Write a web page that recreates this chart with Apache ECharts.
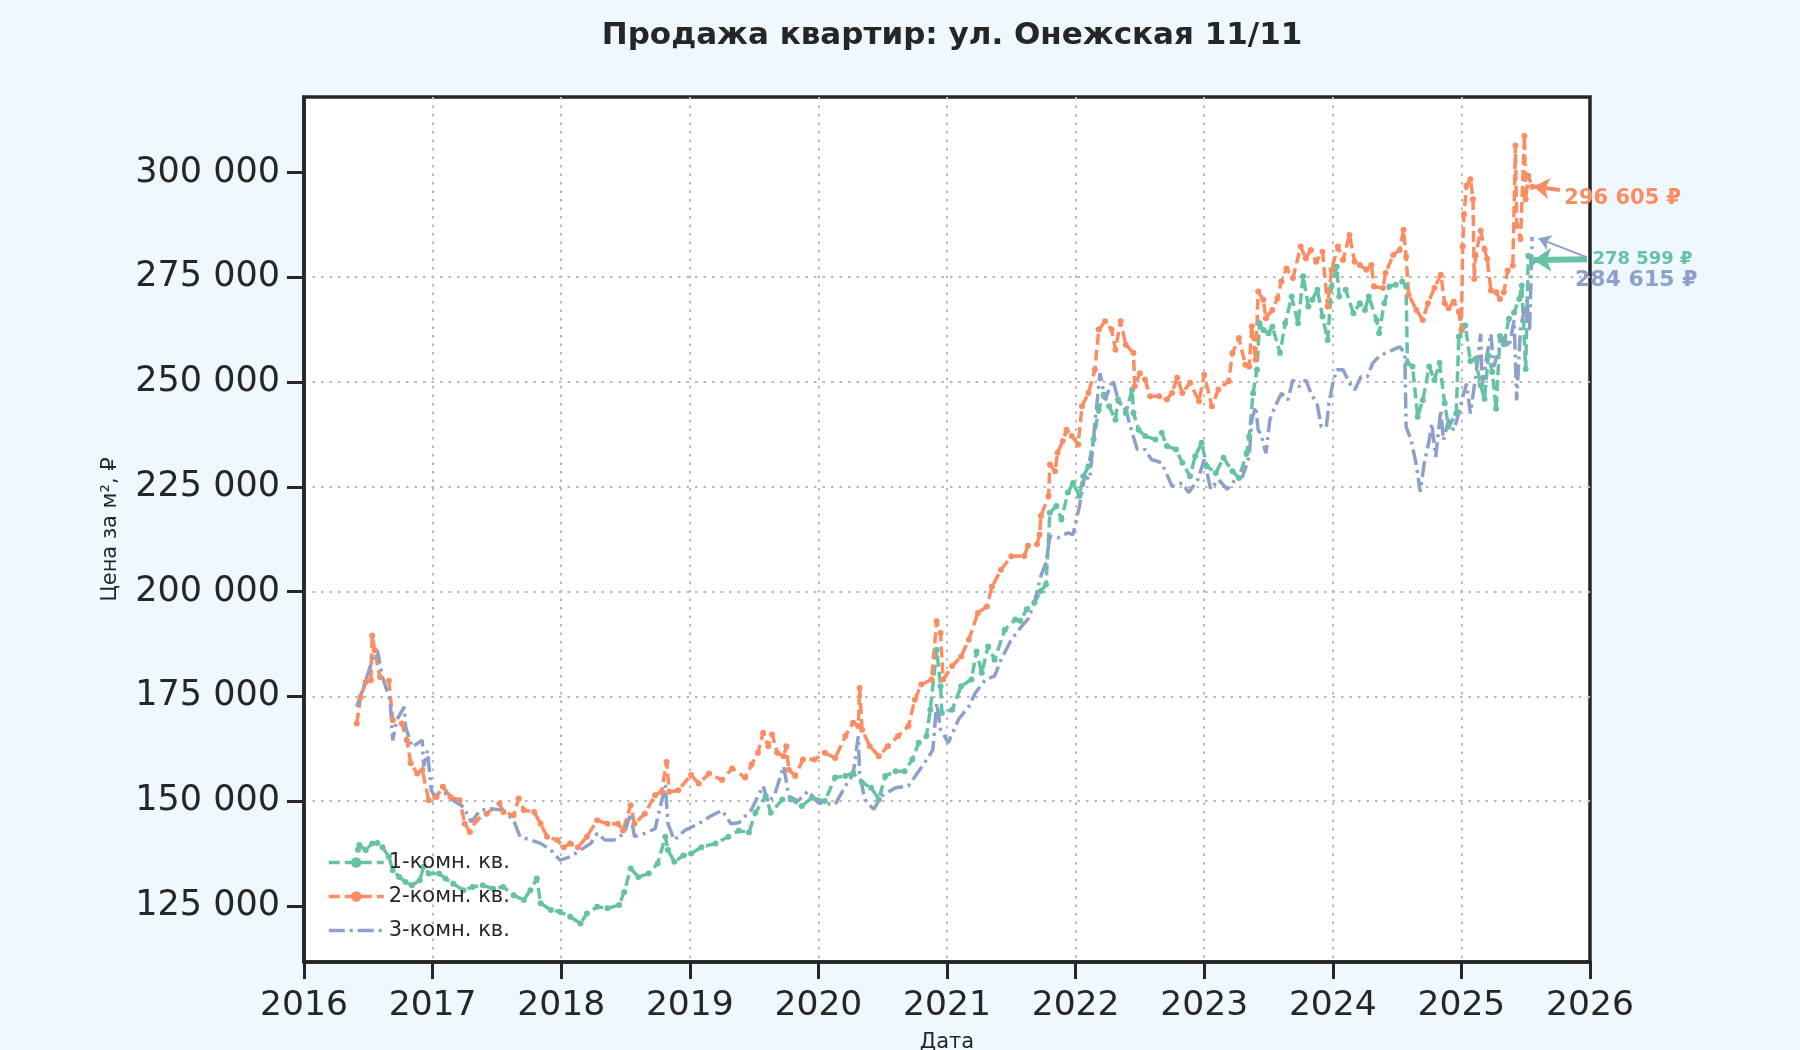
<!DOCTYPE html>
<html>
<head>
<meta charset="utf-8">
<script src="https://cdn.jsdelivr.net/npm/echarts@6/dist/echarts.min.js"></script>
<style>
html,body{margin:0;padding:0;background:#f0f8ff;}
#chart{width:1800px;height:1050px;}
</style>
</head>
<body>
<div id="chart"></div>
<script>
// ---- data: [decimal year, price per m²] ----
const oneRoom = [
[2016.42,138400],[2016.43,139500],[2016.48,138300],[2016.53,139900],[2016.57,140000],[2016.61,139000],[2016.66,136700],[2016.69,133500],[2016.74,131900],[2016.79,130700],[2016.84,129900],[2016.90,131100],[2016.93,134300],[2016.97,132700],
[2017.05,132700],[2017.10,131500],[2017.16,130300],[2017.24,128700],[2017.31,129500],[2017.39,129900],[2017.47,129100],[2017.55,129500],[2017.63,127500],[2017.71,126400],[2017.76,128700],[2017.81,131500],[2017.84,125600],[2017.92,124000],[2017.99,123600],
[2018.07,122400],[2018.15,120800],[2018.20,123200],[2018.28,124800],[2018.36,124400],[2018.45,125200],[2018.49,128300],[2018.54,133900],[2018.60,131900],[2018.68,132700],[2018.75,135100],[2018.81,141500],[2018.83,138300],[2018.88,135500],[2018.95,137000],
[2019.01,137500],[2019.09,139000],[2019.20,139900],[2019.30,141500],[2019.38,142900],[2019.46,142500],[2019.51,147200],[2019.59,151200],[2019.63,147200],[2019.72,150400],[2019.79,150400],[2019.87,148800],[2019.95,150800],
[2020.05,150000],[2020.13,155600],[2020.21,156000],[2020.27,156700],[2020.34,154400],[2020.41,153200],[2020.47,150400],[2020.52,156000],[2020.60,157100],[2020.67,157100],[2020.73,159900],[2020.78,163900],[2020.84,165500],[2020.87,171800],[2020.92,186100],[2020.95,177400],[2020.96,171000],
[2021.04,171800],[2021.11,177400],[2021.19,179000],[2021.23,185700],[2021.27,180600],[2021.32,186900],[2021.37,183700],[2021.45,190900],[2021.53,193300],[2021.57,193000],[2021.62,195800],[2021.68,197400],[2021.73,200100],[2021.77,201700],[2021.80,218800],[2021.85,220400],[2021.89,217200],[2021.94,223600],[2021.98,225900],
[2022.03,222800],[2022.06,227500],[2022.10,229900],[2022.14,236300],[2022.18,243400],[2022.22,247000],[2022.26,244200],[2022.31,241000],[2022.33,245800],[2022.39,242600],[2022.44,248200],[2022.45,242600],[2022.49,238600],[2022.54,237100],[2022.62,236300],[2022.67,237900],[2022.71,234700],[2022.78,233900],[2022.83,230700],[2022.89,227500],[2022.93,232300],[2022.98,235500],
[2023.02,229900],[2023.09,228300],[2023.15,231900],[2023.22,228700],[2023.27,227100],[2023.33,233000],[2023.35,237000],[2023.38,247300],[2023.41,252900],[2023.43,264000],[2023.46,262400],[2023.50,261600],[2023.53,263200],[2023.59,256900],[2023.63,264000],[2023.68,270400],[2023.73,264000],[2023.77,275200],[2023.81,268000],[2023.84,269600],[2023.88,272000],[2023.92,265600],[2023.96,260000],[2023.99,272800],
[2024.03,277500],[2024.05,270400],[2024.10,272000],[2024.16,266400],[2024.21,268800],[2024.25,267200],[2024.28,270400],[2024.34,264800],[2024.36,261600],[2024.40,268800],[2024.44,272800],[2024.49,273200],[2024.54,274000],[2024.57,272800],[2024.58,254500],[2024.62,253700],[2024.66,241700],[2024.70,245700],[2024.75,253700],[2024.79,250500],[2024.83,254500],[2024.87,244900],[2024.90,239300],[2024.96,242500],[2024.98,260800],
[2025.03,263500],[2025.07,255000],[2025.11,255500],[2025.15,249200],[2025.18,246000],[2025.21,256300],[2025.24,252400],[2025.27,243600],[2025.30,261000],[2025.33,259000],[2025.37,265100],[2025.41,266600],[2025.45,269800],[2025.47,273000],[2025.50,253100],[2025.52,280100],[2025.55,278599]
];
const twoRoom = [
[2016.41,168500],[2016.44,174800],[2016.48,178400],[2016.52,178800],[2016.53,189500],[2016.55,186000],[2016.59,179600],[2016.66,178700],[2016.69,169300],[2016.76,168500],[2016.80,164500],[2016.83,159000],[2016.88,156600],[2016.92,157400],[2016.97,150200],
[2017.03,151000],[2017.08,153400],[2017.14,151000],[2017.21,150200],[2017.25,144600],[2017.29,142600],[2017.34,145400],[2017.42,147000],[2017.52,149400],[2017.55,147400],[2017.63,146600],[2017.67,150600],[2017.71,147800],[2017.79,147400],[2017.84,144600],[2017.89,141500],[2017.97,140700],
[2018.02,139000],[2018.07,139900],[2018.13,139000],[2018.20,141500],[2018.28,145400],[2018.36,144600],[2018.44,144600],[2018.48,143000],[2018.54,149000],[2018.57,144600],[2018.65,147000],[2018.73,151400],[2018.78,152200],[2018.82,159300],[2018.84,152200],[2018.91,152600],
[2019.01,156200],[2019.07,154200],[2019.15,156600],[2019.25,155000],[2019.33,157800],[2019.43,155600],[2019.48,158700],[2019.53,161500],[2019.57,166300],[2019.61,163100],[2019.64,165900],[2019.68,161500],[2019.73,160700],[2019.75,163100],[2019.77,157500],[2019.82,156000],[2019.88,159900],[2019.97,159900],
[2020.05,161500],[2020.13,160300],[2020.21,165500],[2020.27,168700],[2020.31,167900],[2020.32,177000],[2020.34,167000],[2020.40,163100],[2020.47,160700],[2020.54,163100],[2020.62,165500],[2020.70,167900],[2020.75,174200],[2020.80,177800],[2020.88,179000],[2020.92,192900],[2020.95,190100],[2020.97,179000],
[2021.04,182200],[2021.11,184500],[2021.17,188500],[2021.24,194900],[2021.31,196400],[2021.35,201200],[2021.42,205200],[2021.50,208400],[2021.60,208500],[2021.63,210900],[2021.70,211300],[2021.72,213600],[2021.73,218000],[2021.79,222800],[2021.80,230300],[2021.84,228700],[2021.86,233100],[2021.90,235900],[2021.93,238600],[2021.97,237100],
[2022.02,235100],[2022.05,244200],[2022.10,247400],[2022.15,252900],[2022.18,262500],[2022.23,264500],[2022.28,262500],[2022.31,257700],[2022.35,264500],[2022.39,258900],[2022.45,256900],[2022.46,249000],[2022.50,252100],[2022.54,250600],[2022.58,246600],[2022.65,246600],[2022.71,245800],[2022.75,247400],[2022.79,251000],[2022.83,247400],[2022.89,249800],[2022.96,245400],
[2023.00,251700],[2023.06,244200],[2023.11,248200],[2023.19,250200],[2023.22,256900],[2023.27,260500],[2023.32,254100],[2023.35,253700],[2023.37,263300],[2023.40,255300],[2023.42,271600],[2023.46,269600],[2023.48,265200],[2023.53,267200],[2023.57,270000],[2023.60,274000],[2023.64,277100],[2023.69,274800],[2023.75,282300],[2023.79,279500],[2023.83,281500],[2023.87,278700],[2023.92,281100],[2023.96,268000],[2023.99,276800],
[2024.04,282300],[2024.08,279100],[2024.13,285100],[2024.17,278700],[2024.21,277900],[2024.26,276800],[2024.30,277900],[2024.32,272800],[2024.39,272400],[2024.41,276000],[2024.47,280300],[2024.52,281500],[2024.55,286300],[2024.57,279900],[2024.59,270800],[2024.65,267200],[2024.70,264800],[2024.74,268800],[2024.79,272400],[2024.84,275600],[2024.87,268800],[2024.90,267600],[2024.94,269200],[2024.98,266800],
[2025.00,262400],[2025.01,282300],[2025.02,290000],[2025.04,296800],[2025.07,298400],[2025.09,293600],[2025.10,274600],[2025.11,280100],[2025.15,286100],[2025.18,281700],[2025.20,279400],[2025.23,271800],[2025.27,271400],[2025.30,269800],[2025.33,271400],[2025.36,276600],[2025.40,277800],[2025.42,306400],[2025.43,287300],[2025.46,284100],[2025.49,308700],[2025.50,293600],[2025.52,299200],[2025.55,296605]
];
const threeRoom = [
[2016.41,172500],[2016.48,178800],[2016.54,184400],[2016.57,186000],[2016.61,179600],[2016.67,174000],[2016.69,164500],[2016.72,169300],[2016.78,172500],[2016.79,167700],[2016.84,162900],[2016.92,164500],[2016.93,158200],[2016.96,162000],[2016.99,152600],
[2017.01,151400],[2017.10,151800],[2017.16,150200],[2017.24,148600],[2017.30,145000],[2017.37,147800],[2017.45,148200],[2017.55,147800],[2017.63,145400],[2017.68,141500],[2017.76,140700],[2017.84,139900],[2017.92,138300],[2017.99,135900],
[2018.07,136700],[2018.15,138300],[2018.23,139900],[2018.28,142300],[2018.34,140700],[2018.41,140700],[2018.49,142300],[2018.54,147000],[2018.57,141500],[2018.65,142300],[2018.73,143400],[2018.81,153800],[2018.83,144600],[2018.88,140700],[2018.96,143000],
[2019.07,144600],[2019.15,146200],[2019.25,147800],[2019.32,144600],[2019.38,144800],[2019.48,148000],[2019.57,153600],[2019.61,149600],[2019.66,151600],[2019.73,158300],[2019.77,151200],[2019.84,150000],[2019.92,152400],
[2020.00,149600],[2020.13,149200],[2020.21,153600],[2020.27,156400],[2020.31,165500],[2020.32,156700],[2020.36,150400],[2020.43,148000],[2020.49,151200],[2020.60,153200],[2020.70,153600],[2020.78,157100],[2020.86,160700],[2020.89,162300],[2020.92,173400],[2020.95,167100],
[2021.01,163900],[2021.09,169500],[2021.17,172600],[2021.22,175800],[2021.30,179000],[2021.37,179800],[2021.42,183700],[2021.50,188500],[2021.58,191700],[2021.63,193400],[2021.68,197400],[2021.73,203700],[2021.77,206900],[2021.80,213200],[2021.86,212800],[2021.94,214000],[2021.98,213600],
[2022.03,220400],[2022.07,227500],[2022.11,226700],[2022.15,240200],[2022.19,252100],[2022.23,245800],[2022.27,249000],[2022.29,250600],[2022.33,245800],[2022.39,243400],[2022.44,237900],[2022.48,233900],[2022.54,233900],[2022.59,231500],[2022.67,230700],[2022.75,225100],[2022.83,225900],[2022.88,223600],[2022.95,226700],
[2023.00,231500],[2023.05,224400],[2023.11,226700],[2023.18,224400],[2023.24,226700],[2023.30,227500],[2023.35,232300],[2023.37,240900],[2023.40,244100],[2023.42,238500],[2023.44,237700],[2023.48,233000],[2023.51,240900],[2023.55,244100],[2023.60,247300],[2023.65,245700],[2023.69,250500],[2023.74,248900],[2023.79,250500],[2023.83,247300],[2023.88,244500],[2023.91,239300],[2023.95,239300],[2023.97,244900],
[2024.00,249700],[2024.03,252900],[2024.08,252900],[2024.13,249700],[2024.17,248100],[2024.22,251300],[2024.27,251300],[2024.31,254500],[2024.36,256100],[2024.41,256900],[2024.47,257700],[2024.52,258400],[2024.56,256900],[2024.57,239300],[2024.61,236100],[2024.65,230000],[2024.68,223800],[2024.71,230500],[2024.75,236100],[2024.77,240100],[2024.80,232100],[2024.84,243300],[2024.86,236100],[2024.90,240900],[2024.94,238500],[2024.98,242500],
[2025.01,246400],[2025.04,249600],[2025.07,242500],[2025.11,251200],[2025.15,261500],[2025.16,248800],[2025.20,256700],[2025.23,261500],[2025.25,253600],[2025.29,257500],[2025.33,260700],[2025.37,258300],[2025.41,264700],[2025.43,245600],[2025.46,263100],[2025.49,267100],[2025.51,269500],[2025.53,262000],[2025.55,284615]
];
const seriesNames = ['1-комн. кв.', '2-комн. кв.', '3-комн. кв.'];
const yTicks = [125000, 150000, 175000, 200000, 225000, 250000, 275000, 300000];
const lastLabels = ['278 599 ₽', '296 605 ₽', '284 615 ₽'];

const COLORS = ['#66c2a5', '#fc8d62', '#8da0cb'];
const INK = '#262626';
const FONT = 'DejaVu Sans';
const gridLine = {show: true, showMinLine: false, showMaxLine: false,
  lineStyle: {color: '#b8b8b8', width: 2, type: [2.5, 6]}};

function arrow(from, to, color, width, size) {
  return {
    silent: true, symbol: ['none', 'arrow'], symbolSize: size, animation: false,
    label: {show: false}, emphasis: {disabled: true},
    lineStyle: {color: color, width: width, type: 'solid', opacity: 1},
    data: [[{coord: from}, {coord: to}]]
  };
}
function tag(pos, text, color, size, dist) {
  return {
    silent: true, animation: false,
    data: [{coord: pos, symbol: 'circle', symbolSize: 0.1, itemStyle: {color: 'rgba(0,0,0,0)'},
      label: {show: true, position: 'right', distance: dist, formatter: text,
        color: color, fontFamily: FONT, fontWeight: 'bold', fontSize: size}}]
  };
}

const chart = echarts.init(document.getElementById('chart'), null, {renderer: 'canvas'});
chart.setOption({
  backgroundColor: '#f0f8ff',
  animation: false,
  textStyle: {fontFamily: FONT},
  title: {
    text: 'Продажа квартир: ул. Онежская 11/11',
    left: 947, top: 15, textAlign: 'center',
    textStyle: {fontFamily: FONT, fontSize: 31, fontWeight: 'bold', color: INK}
  },
  grid: {left: 304, right: 210, top: 97, bottom: 88, show: true, outerBoundsMode: 'none',
    containLabel: false, backgroundColor: '#ffffff', borderColor: INK, borderWidth: 3.5},
  legend: {
    orient: 'vertical', left: 322, top: 847, itemWidth: 55, itemHeight: 13, itemGap: 13,
    lineStyle: {width: 3.5},
    data: [{name: seriesNames[0]}, {name: seriesNames[1]}, {name: seriesNames[2], itemStyle: {opacity: 0}}],
    textStyle: {fontFamily: FONT, fontSize: 21, color: INK}
  },
  xAxis: {
    type: 'value', min: 2016, max: 2026, interval: 1,
    name: 'Дата', nameLocation: 'middle', nameGap: 70,
    nameTextStyle: {fontFamily: FONT, fontSize: 21, color: INK},
    axisLine: {show: true, lineStyle: {color: INK, width: 3.5}},
    axisTick: {show: true, length: 17, lineStyle: {color: INK, width: 3}},
    axisLabel: {fontFamily: FONT, fontSize: 34.5, color: INK, margin: 27, formatter: v => String(v)},
    splitLine: gridLine
  },
  yAxis: {
    type: 'value', min: 111600, max: 318000,
    name: 'Цена за м², ₽', nameLocation: 'middle', nameGap: 183,
    nameTextStyle: {fontFamily: FONT, fontSize: 21, color: INK},
    axisLine: {show: true, lineStyle: {color: INK, width: 3.5}},
    axisTick: {show: true, length: 17, lineStyle: {color: INK, width: 3}, customValues: yTicks},
    axisLabel: {fontFamily: FONT, fontSize: 35, color: INK, margin: 24, customValues: yTicks,
      formatter: v => Math.round(v / 1000) + ' 000'},
    splitLine: gridLine
  },
  series: [
    {
      name: seriesNames[0], type: 'line', data: oneRoom, color: COLORS[0],
      symbol: 'circle', symbolSize: 6, showAllSymbol: true,
      lineStyle: {width: 3.5, type: [11, 5]}, emphasis: {disabled: true},
      markLine: arrow([2025.977, 279265], [2025.56, 279100], COLORS[0], 6, 18),
      markPoint: tag([2025.995, 279200], lastLabels[0], COLORS[0], 18, 3)
    },
    {
      name: seriesNames[1], type: 'line', data: twoRoom, color: COLORS[1],
      symbol: 'circle', symbolSize: 6, showAllSymbol: true,
      lineStyle: {width: 3.5, type: [11, 5]}, emphasis: {disabled: true},
      markLine: arrow([2025.766, 295820], [2025.56, 296650], COLORS[1], 4, 16),
      markPoint: tag([2025.80, 293700], lastLabels[1], COLORS[1], 21, 0)
    },
    {
      name: seriesNames[2], type: 'line', data: threeRoom, color: COLORS[2],
      showSymbol: false, symbol: 'none',
      lineStyle: {width: 3.5, type: [16, 5, 3, 5]}, emphasis: {disabled: true},
      markLine: arrow([2025.977, 279740], [2025.6, 284280], COLORS[2], 2, 12),
      markPoint: tag([2025.883, 274300], lastLabels[2], COLORS[2], 22, 0)
    }
  ]
});
</script>
</body>
</html>
